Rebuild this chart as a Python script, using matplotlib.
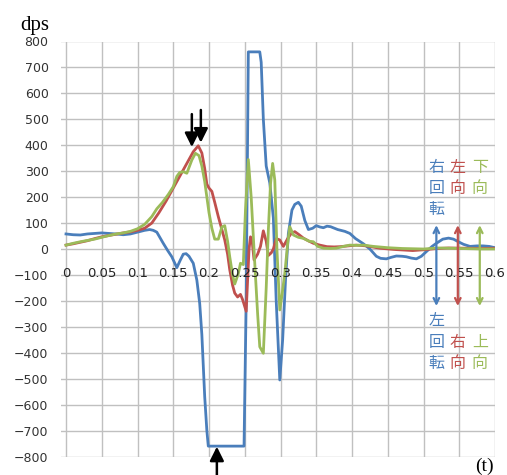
import matplotlib
matplotlib.use("Agg")
import matplotlib.pyplot as plt

# rotation (blue), left/right (red), up/down (green) in dps
t_blue = [0, 0.01, 0.02, 0.03, 0.04, 0.05, 0.06, 0.07, 0.08, 0.09, 0.1, 0.11, 0.117, 0.122,
          0.127, 0.136, 0.142, 0.148, 0.155, 0.16, 0.164, 0.168, 0.172, 0.178, 0.183, 0.187,
          0.19, 0.192, 0.194, 0.197, 0.199, 0.249, 0.252, 0.255, 0.271, 0.273, 0.276, 0.28,
          0.285, 0.29, 0.294, 0.299, 0.303, 0.307, 0.311, 0.316, 0.32, 0.325, 0.329, 0.334,
          0.339, 0.345, 0.35, 0.355, 0.36, 0.365, 0.37, 0.38, 0.39, 0.397, 0.405, 0.416,
          0.425, 0.434, 0.44, 0.448, 0.455, 0.462, 0.47, 0.476, 0.483, 0.49, 0.497, 0.504,
          0.512, 0.518, 0.527, 0.535, 0.542, 0.548, 0.556, 0.565, 0.575, 0.583, 0.592, 0.6]
rot_blue = [58, 55, 54, 58, 60, 62, 60, 58, 55, 58, 65, 72, 75, 72,
            65, 22, -5, -30, -72, -42, -20, -18, -28, -55, -120, -210,
            -330, -450, -570, -700, -760, -760, -200, 760, 760, 720, 500, 320,
            255, 120, -200, -505, -350, -120, 60, 150, 172, 180, 165, 110,
            75, 80, 90, 85, 82, 88, 86, 75, 68, 60, 40, 20,
            0, -28, -36, -38, -32, -27, -28, -30, -35, -38, -28, -10,
            10, 22, 38, 42, 38, 29, 18, 10, 12, 12, 10, 5]

t_red = [0, 0.01, 0.02, 0.03, 0.04, 0.05, 0.06, 0.07, 0.08, 0.09, 0.1, 0.11, 0.12, 0.13,
         0.14, 0.15, 0.16, 0.17, 0.178, 0.185, 0.19, 0.194, 0.197, 0.2, 0.204, 0.208, 0.213,
         0.218, 0.222, 0.226, 0.229, 0.233, 0.236, 0.24, 0.244, 0.247, 0.252, 0.256, 0.258,
         0.26, 0.263, 0.268, 0.272, 0.276, 0.28, 0.283, 0.287, 0.29, 0.294, 0.299, 0.304,
         0.31, 0.315, 0.32, 0.326, 0.332, 0.34, 0.346, 0.355, 0.365, 0.375, 0.383, 0.395,
         0.406, 0.42, 0.439, 0.46, 0.485, 0.5, 0.52, 0.535, 0.56, 0.58, 0.6]
lr_red = [15, 20, 26, 32, 40, 47, 52, 57, 62, 66, 72, 80, 100, 140,
          185, 235, 285, 335, 375, 398, 370, 310, 250, 235, 222, 180, 125,
          75, 35, -20, -80, -140, -170, -185, -175, -195, -240, 0, 47,
          40, -42, -20, 10, 70, 30, -25, -15, 0, 40, 35, 10,
          40, 60, 67, 55, 42, 30, 22, 15, 9, 8, 9, 12,
          15, 12, 3, -2, -6, -3, 2, 4, 3, 2, 3]

t_green = [0, 0.01, 0.02, 0.03, 0.04, 0.05, 0.06, 0.07, 0.08, 0.09, 0.1, 0.11, 0.12, 0.127,
           0.135, 0.143, 0.15, 0.155, 0.159, 0.164, 0.169, 0.176, 0.181, 0.186, 0.19, 0.194,
           0.197, 0.2, 0.204, 0.208, 0.213, 0.218, 0.222, 0.226, 0.229, 0.233, 0.236, 0.241,
           0.244, 0.248, 0.251, 0.255, 0.259, 0.264, 0.268, 0.271, 0.276, 0.28, 0.283, 0.286,
           0.289, 0.292, 0.295, 0.299, 0.302, 0.306, 0.31, 0.313, 0.318, 0.325, 0.332, 0.34,
           0.346, 0.352, 0.36, 0.37, 0.378, 0.388, 0.397, 0.407, 0.416, 0.43, 0.45, 0.47,
           0.5, 0.52, 0.55, 0.58, 0.6]
ud_green = [15, 22, 28, 33, 38, 45, 52, 58, 62, 68, 78, 95, 125, 155,
            180, 210, 240, 280, 295, 298, 292, 343, 369, 360, 320, 260,
            200, 140, 80, 38, 38, 85, 90, 30, -30, -100, -135, -95,
            -55, -60, 150, 345, 200, -55, -250, -377, -402, -150, 73, 250,
            330, 266, 0, -235, -180, -94, 20, 86, 54, 45, 41, 30,
            28, 10, 3, 2, 3, 10, 15, 14, 15, 10, 5, 2,
            0, 4, 2, 0, 0]

x_ticks = [0, 0.05, 0.1, 0.15, 0.2, 0.25, 0.3, 0.35, 0.4, 0.45, 0.5, 0.55, 0.6]
x_labels = ["0", "0.05", "0.1", "0.15", "0.2", "0.25", "0.3", "0.35", "0.4", "0.45", "0.5", "0.55", "0.6"]
y_ticks = list(range(-800, 801, 100))

BLUE = "#4a7ebb"
RED = "#c0504d"
GREEN = "#9bbb59"

fig = plt.figure(figsize=(5.07, 4.75), dpi=100)
ax = fig.add_axes([61 / 507, 18.5 / 475, 434 / 507, 415 / 475])

ax.plot(t_blue, rot_blue, color=BLUE, lw=2.0, zorder=3)
ax.plot(t_red, lr_red, color=RED, lw=2.0, zorder=3)
ax.plot(t_green, ud_green, color=GREEN, lw=2.0, zorder=3)

ax.set_xlim(-0.007, 0.6)
ax.set_ylim(-800, 800)
ax.set_xticks(x_ticks)
ax.set_yticks(y_ticks)
ax.set_xticklabels([])
ax.tick_params(axis="x", length=0)
ax.tick_params(axis="y", length=0, pad=9, labelsize=9, labelcolor="#333333")
for s in ax.spines.values():
    s.set_visible(False)
ax.grid(True, color="#c0c0c0", lw=1.0, zorder=0)
ax.set_axisbelow(True)

# x labels sit inside the plot just under the zero line
for xv, lab in zip(x_ticks, x_labels):
    ax.text(xv, -93, lab, ha="center", va="center", fontsize=9.5, color="#222222", zorder=4)

# axis unit labels
fig.text(20 / 507, 1 - 30 / 475, "dps", fontsize=15, family="Liberation Serif", va="baseline")
fig.text(494 / 507, 1 - 471 / 475, "(t)", fontsize=14, family="Liberation Serif",
         ha="right", va="baseline")

# direction arrows with legend text
cjk = ["Noto Sans CJK JP", "DejaVu Sans"]
arrows = [(0.518, BLUE, "右回転", "左回転"),
          (0.548, RED, "左向", "右向"),
          (0.5787, GREEN, "下向", "上向")]
for xv, c, top, bottom in arrows:
    ax.annotate("", xy=(xv, 92), xytext=(xv, -220),
                arrowprops=dict(arrowstyle="<->", color=c, lw=1.6, mutation_scale=10,
                                shrinkA=0, shrinkB=0), zorder=5)
    for i, ch in enumerate(top):
        ax.text(xv, 315 - i * 82, ch, color=c, fontsize=11.5, family=cjk,
                ha="center", va="center", zorder=5)
    for i, ch in enumerate(bottom):
        ax.text(xv, -441 + (len(bottom) - 1 - i) * 82, ch, color=c, fontsize=11.5, family=cjk,
                ha="center", va="center", zorder=5)

# black pointers at the peaks
black = dict(arrowstyle="-|>,head_length=0.7,head_width=0.35", color="black", lw=1.8,
             mutation_scale=12, shrinkA=0, shrinkB=0)
ax.annotate("", xy=(0.176, 393), xytext=(0.176, 520), arrowprops=black, zorder=6)
ax.annotate("", xy=(0.1886, 410), xytext=(0.1886, 536), arrowprops=black, zorder=6)
ax.annotate("", xy=(0.211, -762), xytext=(0.211, -880), arrowprops=black, zorder=6,
            annotation_clip=False)

fig.savefig("out.png", dpi=100)
